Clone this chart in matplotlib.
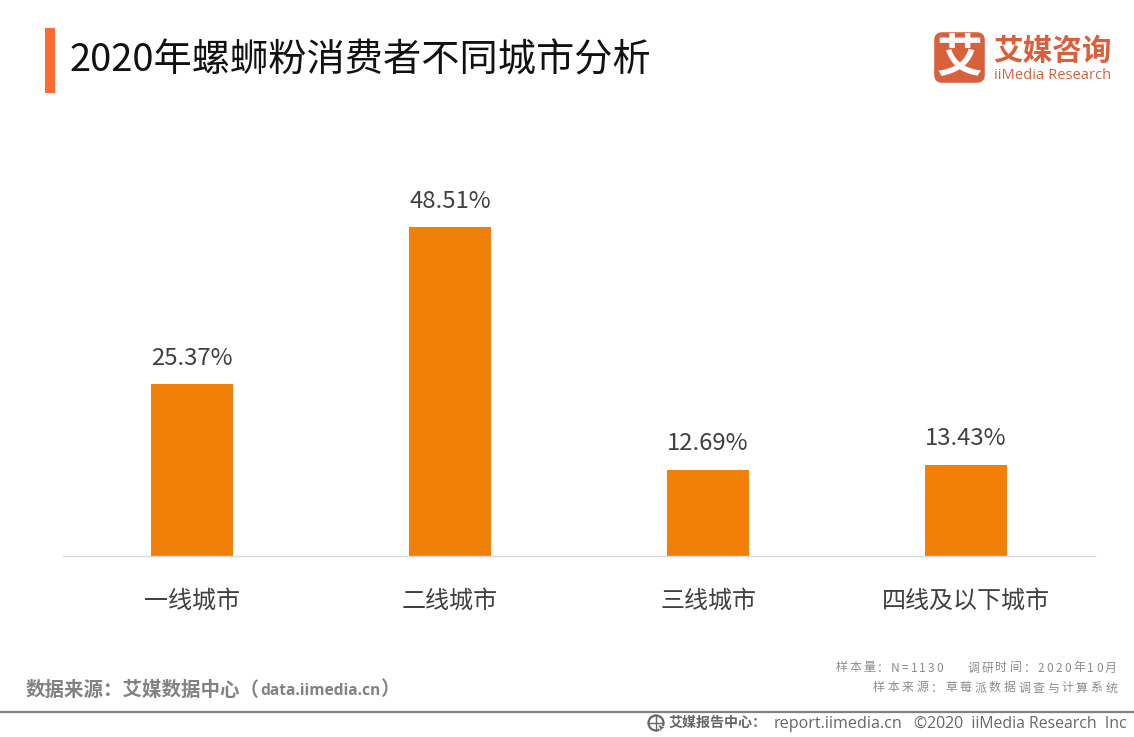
import matplotlib

matplotlib.use("Agg")
import matplotlib.pyplot as plt
from matplotlib.patches import Circle, FancyBboxPatch, Polygon, Rectangle

plt.rcParams["font.family"] = ["Noto Sans CJK SC", "DejaVu Sans"]

categories = ["一线城市", "二线城市", "三线城市", "四线及以下城市"]
shares = [25.37, 48.51, 12.69, 13.43]
value_labels = ["25.37%", "48.51%", "12.69%", "13.43%"]

title = "2020年螺蛳粉消费者不同城市分析"
source_cn = "数据来源：艾媒数据中心（"
source_url = "data.iimedia.cn"
sample_left = "样本量：N=1130"
sample_right = "调研时间：2020年10月"
sample_source = "样本来源：草莓派数据调查与计算系统"
footer_cn = "艾媒报告中心："
footer_url = "report.iimedia.cn"
footer_right = "©2020  iiMedia Research  Inc"

W, H = 1134, 737
fig = plt.figure(figsize=(W / 100, H / 100), dpi=100, facecolor="white")

# page layer in pixel coordinates, y going down
page = fig.add_axes([0, 0, 1, 1])
page.set_xlim(0, W)
page.set_ylim(H, 0)
page.axis("off")


def spaced(x_right, y, text, size, color, step_extra):
    # letter spaced text, right aligned, one char at a time
    r = fig.canvas.get_renderer()
    x = x_right
    for ch in reversed(text):
        t = page.text(x, y, ch, fontsize=size, color=color, ha="right", va="center")
        x -= t.get_window_extent(r).width + step_extra
    return x


page.add_patch(Rectangle((45, 28), 10, 65, color="#FF6A33", lw=0))
page.text(70, 61, title, fontsize=27.5, color="#111111", va="center")

# logo
page.add_patch(FancyBboxPatch((937, 35), 45, 45, boxstyle="round,pad=0,rounding_size=5",
                              fc="#D9603C", ec="#D9603C", lw=4))
page.text(959.5, 58, "艾", fontsize=33, color="white", ha="center", va="center", fontweight="bold")
page.text(993, 51, "艾媒咨询", fontsize=21.3, color="#D9603C", va="center", fontweight="bold")
page.text(994, 75, "iiMedia Research", fontsize=10.6, color="#D9603C", va="center",
          family=["Open Sans", "DejaVu Sans"])

# chart
ax = fig.add_axes([63 / W, 1 - 556 / H, 1032 / W, 426 / H])
ax.patch.set_alpha(0)
positions = range(len(categories))
bars = ax.bar(positions, shares, width=0.314, color="#F08008")
ax.set_xlim(-0.5, 3.5)
ax.set_ylim(0, 62.9)
ax.set_yticks([])
ax.set_xticks(list(positions))
ax.set_xticklabels(categories, fontsize=17.3, color="#404040")
ax.tick_params(axis="x", length=0, pad=22.8)
for side in ["top", "left", "right"]:
    ax.spines[side].set_visible(False)
ax.spines["bottom"].set_color("#D9D9D9")
ax.spines["bottom"].set_linewidth(1)
for bar, label in zip(bars, value_labels):
    ax.annotate(label, (bar.get_x() + bar.get_width() / 2, bar.get_height()), xytext=(0, 10.5),
                textcoords="offset points", ha="center", va="bottom", fontsize=17.2, color="#404040")

# footer
page.text(26, 690, source_cn, fontsize=14, color="#828282", va="center", fontweight="bold")
page.text(260, 691, source_url, fontsize=11.2, color="#828282", va="center", fontweight="bold",
          family=["Open Sans", "DejaVu Sans"])
page.text(380, 690, "）", fontsize=14, color="#828282", va="center", fontweight="bold")
fig.canvas.draw()
spaced(1117, 668, sample_right, 8.6, "#8C8C8C", 2.2)
spaced(943, 668, sample_left, 8.6, "#8C8C8C", 2.0)
spaced(1117, 688, sample_source, 8.6, "#8C8C8C", 2.65)
page.plot([0, W], [712, 712], color="#808080", lw=1.6, solid_capstyle="butt")

page.add_patch(Circle((656, 723), 7.5, fc="none", ec="#666666", lw=1.6))
page.plot([649, 663], [723, 723], color="#666666", lw=1)
page.plot([656, 656], [716, 730], color="#666666", lw=1)
page.add_patch(Polygon([(658, 724), (666, 728), (662, 729), (661, 733)], fc="#666666", ec="white", lw=0.6))
page.text(669, 723, footer_cn, fontsize=10.1, color="#666666", va="center", fontweight="bold")
page.text(774, 724, footer_url, fontsize=11.6, color="#666666", va="center",
          family=["Open Sans", "DejaVu Sans"])
page.text(1127, 724, footer_right, fontsize=11.4, color="#666666", va="center", ha="right",
          family=["Open Sans", "DejaVu Sans"])

fig.savefig("out.png", dpi=100)
